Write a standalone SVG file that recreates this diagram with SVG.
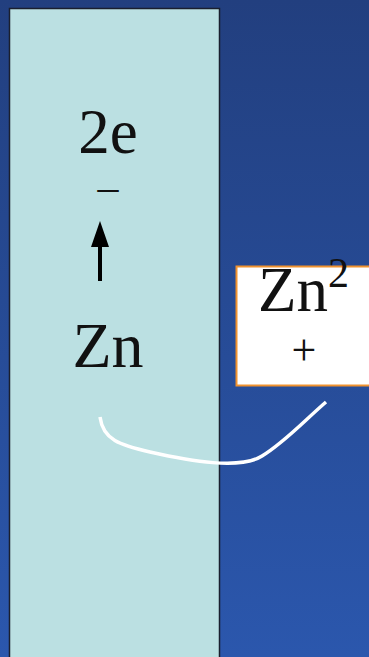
<svg xmlns="http://www.w3.org/2000/svg" width="369" height="657" viewBox="0 0 369 657">
<defs>
<linearGradient id="bg" x1="0" y1="0" x2="0" y2="1">
<stop offset="0" stop-color="#223f7f"/>
<stop offset="1" stop-color="#2b57ad"/>
</linearGradient>
<marker id="ah" viewBox="0 0 26 18" refX="12" refY="9" markerWidth="26" markerHeight="18" orient="auto" markerUnits="userSpaceOnUse">
<path d="M0,0 L26,9 L0,18 z" fill="#000"/>
</marker>
<style>
.t{font-family:"Liberation Serif","Times New Roman",serif;fill:#111;}
</style>
</defs>
<rect width="369" height="657" fill="url(#bg)"/>
<g id="electrode">
<rect x="9.5" y="8.5" width="210" height="660" fill="#bbe0e2" stroke="#1a1f2e" stroke-width="1.5"/>
<text class="t" x="108" y="153" font-size="63" text-anchor="middle">2e</text>
<text class="t" x="108" y="201" font-size="42" text-anchor="middle">–</text>
<text class="t" x="108" y="367" font-size="64" text-anchor="middle">Zn</text>
</g>
<g id="ion">
<rect x="236.5" y="266.5" width="140" height="119" fill="#fff" stroke="#f0922e" stroke-width="2"/>
<text class="t" x="258" y="311" font-size="63">Zn</text>
<text class="t" x="328" y="287" font-size="42">2</text>
<text class="t" x="304" y="365" font-size="44" text-anchor="middle">+</text>
</g>
<g id="connectors">
<line x1="100" y1="281" x2="100" y2="235" stroke="#000" stroke-width="4" marker-end="url(#ah)"/>
<path d="M100,417 C103,440 120,445 150,452 C190,461 240,470 262,456 C285,442 305,420 326,402" fill="none" stroke="#fff" stroke-width="3.5"/>
</g>
</svg>
